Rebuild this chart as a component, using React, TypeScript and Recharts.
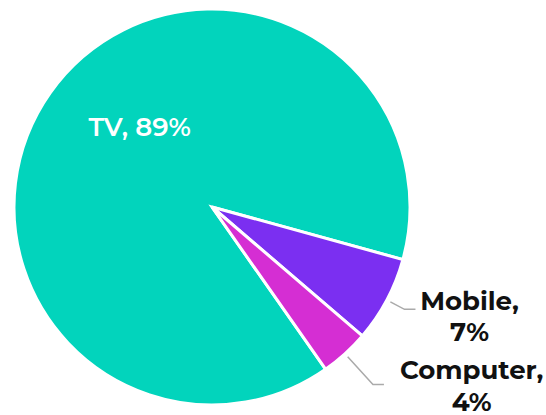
import { PieChart, Pie, Cell } from "recharts";

const devices = ["TV", "Mobile", "Computer"];
const shares = [89, 7, 4];
const colors = ["#02D4BC", "#7B2FF1", "#D52ED3"];

const data = devices.map((name, i) => ({ name, value: shares[i] }));

// leader line / text placement for the outside labels
const outside: Record<string, { bend: number; textDx: number; textDy: number }> = {
  Mobile: { bend: 20, textDx: 54, textDy: 0.6 },
  Computer: { bend: 41.6, textDx: 87.7, textDy: -5 },
};

const RAD = Math.PI / 180;
const font = "Montserrat, 'Open Sans', sans-serif";

const renderLabel = (props: any) => {
  const { cx, cy, midAngle, outerRadius, name, value } = props;
  if (name === "TV") {
    // inside label, white
    const a = (midAngle - 9.1) * RAD;
    const r = outerRadius * 0.51;
    return (
      <text
        x={cx + r * Math.cos(a)}
        y={cy - r * Math.sin(a)}
        fill="#fff"
        textAnchor="middle"
        fontSize={26}
        fontWeight={600}
        fontFamily={font}
      >
        {`${name}, ${value}%`}
      </text>
    );
  }
  const o = outside[name];
  const a = midAngle * RAD;
  const cos = Math.cos(a);
  const sin = Math.sin(a);
  const r0 = outerRadius + 4;
  const x0 = cx + r0 * cos;
  const y0 = cy - r0 * sin;
  const r1 = outerRadius + o.bend;
  const x1 = cx + r1 * cos;
  const y1 = cy - r1 * sin;
  const x2 = x1 + 11;
  const tx = x2 + o.textDx;
  return (
    <g>
      <polyline
        points={`${x0},${y0} ${x1},${y1} ${x2},${y1}`}
        fill="none"
        stroke="#aaaaaa"
        strokeWidth={1.5}
      />
      <text
        x={tx}
        y={y1 + o.textDy}
        fill="#111"
        textAnchor="middle"
        fontSize={26}
        fontWeight={700}
        fontFamily={font}
      >
        <tspan x={tx} dy={0}>{`${name},`}</tspan>
        <tspan x={tx} dy={31.5}>{`${value}%`}</tspan>
      </text>
    </g>
  );
};

export default function App() {
  return (
    <div style={{ position: "absolute", left: 0, top: 0, background: "#fff" }}>
      <PieChart
        width={546}
        height={415}
        margin={{ top: 0, right: 0, bottom: 0, left: 0 }}
      >
        <Pie
          data={data}
          dataKey="value"
          nameKey="name"
          cx={212}
          cy={207}
          outerRadius={198}
          startAngle={305}
          endAngle={-55}
          stroke="#fff"
          strokeWidth={3}
          label={renderLabel}
          labelLine={false}
          isAnimationActive={false}
        >
          {data.map((d, i) => (
            <Cell key={d.name} fill={colors[i]} />
          ))}
        </Pie>
      </PieChart>
    </div>
  );
}
